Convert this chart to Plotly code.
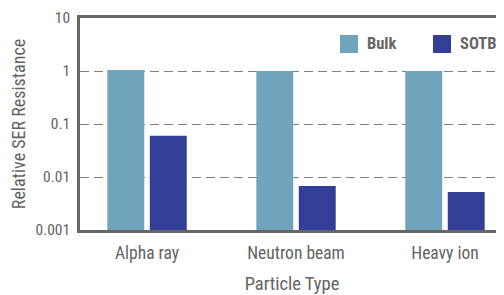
import plotly.graph_objects as go

categories = ["Alpha ray", "Neutron beam", "Heavy ion"]
bulk_values = [1.05, 1.0, 1.0]
sotb_values = [0.06, 0.0068, 0.0052]
series_names = ["Bulk", "SOTB"]
series_colors = ["#6fa4bc", "#333f97"]
y_tick_vals = [0.001, 0.01, 0.1, 1, 10]
y_tick_text = ["0.001", "0.01", "0.1", "1", "10"]

FONT = "Roboto Condensed, Liberation Sans Narrow, sans-serif"
GRAY = "#636363"

# page body has an 8px margin: figure placed at (8, 8)
OFF = 8
W, H = 504 - OFF, 295 - OFF
L, T, B = 80 - OFF, 18 - OFF, 65
PW = W - L
PH = H - T - B

fig = go.Figure()
for name, vals, col in zip(series_names, [bulk_values, sotb_values], series_colors):
    fig.add_trace(go.Bar(x=categories, y=vals, name=name, marker=dict(color=col, line=dict(width=0)),
                         showlegend=False))

fig.update_layout(
    width=W, height=H, autosize=False,
    margin=dict(l=L, r=0, t=T, b=B),
    plot_bgcolor="white", paper_bgcolor="white",
    barmode="group", bargap=0.43, bargroupgap=0.13,
    font=dict(family=FONT, color=GRAY, size=16),
)
fig.update_xaxes(
    range=[-0.45, 2.396], automargin=False,
    showline=True, linecolor="#666666", linewidth=2.5, mirror=True,
    ticks="", showgrid=False, ticklabelstandoff=5,
    tickfont=dict(size=17.5, color=GRAY),
    title=dict(text="Particle Type", font=dict(size=18.5, color=GRAY), standoff=24),
)
fig.update_yaxes(
    type="log", range=[-3, 1], automargin=False,
    tickvals=y_tick_vals, ticktext=y_tick_text,
    showline=True, linecolor="#666666", linewidth=2.5,
    ticks="", ticklabelstandoff=4,
    showgrid=True, gridcolor="#808080", gridwidth=1.3, griddash="9px,5px",
    zeroline=False,
    tickfont=dict(size=15.5, color=GRAY),
    title=dict(text="Relative SER Resistance", font=dict(size=18, color=GRAY), standoff=10),
)

# Legend drawn as swatches + labels (positions in page pixels)
legend_x = [340, 433]
for name, col, lx in zip(series_names, series_colors, legend_x):
    fig.add_shape(type="rect", xref="paper", yref="paper",
                  x0=(lx - 80) / PW, x1=(lx + 18 - 80) / PW,
                  y0=(230 - 53) / PH, y1=(230 - 35) / PH,
                  fillcolor=col, line=dict(width=0), layer="above")
    fig.add_annotation(text=f"<b>{name}</b>", xref="paper", yref="paper",
                       x=(lx + 25 - 80) / PW, y=(230 - 44) / PH,
                       xanchor="left", yanchor="middle", showarrow=False,
                       font=dict(size=16.5, color="#666666", family=FONT))

fig.write_html("out.html")
